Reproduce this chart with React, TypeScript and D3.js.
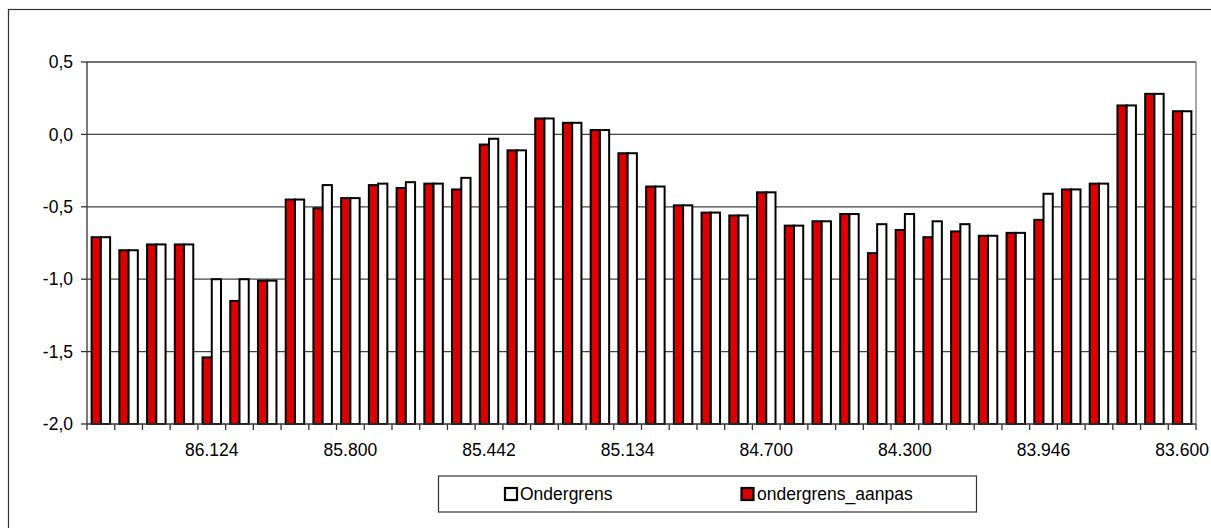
import * as d3 from "d3";

// x-axis labels, only every fifth category carries a label
const categories = [
  "", "", "", "", "86.124", "", "", "", "", "85.800",
  "", "", "", "", "85.442", "", "", "", "", "85.134",
  "", "", "", "", "84.700", "", "", "", "", "84.300",
  "", "", "", "", "83.946", "", "", "", "", "83.600",
];

const ondergrens = [
  -0.71, -0.8, -0.76, -0.76, -1.0, -1.0, -1.01, -0.45, -0.35, -0.44,
  -0.34, -0.33, -0.34, -0.3, -0.03, -0.11, 0.11, 0.08, 0.03, -0.13,
  -0.36, -0.49, -0.54, -0.56, -0.4, -0.63, -0.6, -0.55, -0.62, -0.55,
  -0.6, -0.62, -0.7, -0.68, -0.41, -0.38, -0.34, 0.2, 0.28, 0.16,
];

const ondergrensAanpas = [
  -0.71, -0.8, -0.76, -0.76, -1.54, -1.15, -1.01, -0.45, -0.51, -0.44,
  -0.35, -0.37, -0.34, -0.38, -0.07, -0.11, 0.11, 0.08, 0.03, -0.13,
  -0.36, -0.49, -0.54, -0.56, -0.4, -0.63, -0.6, -0.55, -0.82, -0.66,
  -0.71, -0.67, -0.7, -0.68, -0.59, -0.38, -0.34, 0.2, 0.28, 0.16,
];

const yTicks = [0.5, 0.0, -0.5, -1.0, -1.5, -2.0];

const W = 1211;
const H = 528;
const font = "'Liberation Sans', Arial, sans-serif";
const RED = "#dc0000";

export default function App() {
  const left = 87;
  const right = 1196;
  const top = 62;
  const bottom = 424;

  const idx = categories.map((_, i) => i);
  const x = d3.scaleBand<number>().domain(idx).range([left, right]).paddingInner(0);
  const sub = d3
    .scaleBand<string>()
    .domain(["aanpas", "onder"])
    .range([0, x.bandwidth()])
    .paddingInner(0)
    .paddingOuter(0.5);
  const y = d3.scaleLinear().domain([-2, 0.5]).range([bottom, top]);

  const fmt = (v: number) => d3.format(".1f")(v).replace(".", ",").replace("−", "-");

  return (
    <svg
      width={W}
      height={H}
      style={{ position: "absolute", left: 0, top: 0, background: "#fff" }}
      fontFamily={font}
    >
      {/* chart frame */}
      <rect x={8.5} y={9.5} width={1215} height={540} fill="none" stroke="#333" strokeWidth={1.2} />

      {/* gridlines */}
      {yTicks.slice(0, -1).map((t) => (
        <line key={"g" + t} x1={left} x2={right} y1={y(t)} y2={y(t)} stroke="#444" strokeWidth={1.3} />
      ))}
      <line x1={right} x2={right} y1={top} y2={bottom} stroke="#555" strokeWidth={1} />

      {/* bars */}
      {idx.map((i) => {
        const gx = x(i) as number;
        return (
          <g key={"b" + i}>
            <rect
              x={gx + (sub("aanpas") as number)}
              y={y(ondergrensAanpas[i])}
              width={sub.bandwidth()}
              height={y(-2) - y(ondergrensAanpas[i])}
              fill={RED}
              stroke="#000"
              strokeWidth={2}
            />
            <rect
              x={gx + (sub("onder") as number)}
              y={y(ondergrens[i])}
              width={sub.bandwidth()}
              height={y(-2) - y(ondergrens[i])}
              fill="#fff"
              stroke="#000"
              strokeWidth={2}
            />
          </g>
        );
      })}

      {/* y axis */}
      <line x1={left} x2={left} y1={top} y2={bottom} stroke="#333" strokeWidth={1.3} />
      {yTicks.map((t) => (
        <g key={"y" + t}>
          <line x1={left - 6} x2={left} y1={y(t)} y2={y(t)} stroke="#333" strokeWidth={1.3} />
          <text x={73} y={y(t)} dy="0.35em" textAnchor="end" fontSize={17.5} fill="#000">
            {fmt(t)}
          </text>
        </g>
      ))}

      {/* x axis */}
      <line x1={left} x2={right} y1={bottom} y2={bottom} stroke="#333" strokeWidth={1.3} />
      {idx.concat([categories.length]).map((i) => {
        const tx = left + i * x.step();
        return <line key={"t" + i} x1={tx} x2={tx} y1={bottom} y2={bottom + 6} stroke="#333" strokeWidth={1.3} />;
      })}
      {idx
        .filter((i) => categories[i] !== "")
        .map((i) => (
          <text
            key={"l" + i}
            x={(x(i) as number) + x.bandwidth() / 2}
            y={456}
            textAnchor="middle"
            fontSize={17.5}
            fill="#000"
          >
            {categories[i]}
          </text>
        ))}

      {/* legend */}
      <rect x={438.5} y={476} width={538} height={36} fill="#fff" stroke="#333" strokeWidth={1.2} />
      <rect x={505} y={488} width={12} height={12} fill="#fff" stroke="#000" strokeWidth={2.2} />
      <text x={520} y={500} fontSize={17.5} fill="#000">
        Ondergrens
      </text>
      <rect x={741.5} y={488} width={12} height={12} fill={RED} stroke="#000" strokeWidth={2.2} />
      <text x={757} y={500} fontSize={17.5} fill="#000">
        ondergrens_aanpas
      </text>
    </svg>
  );
}
